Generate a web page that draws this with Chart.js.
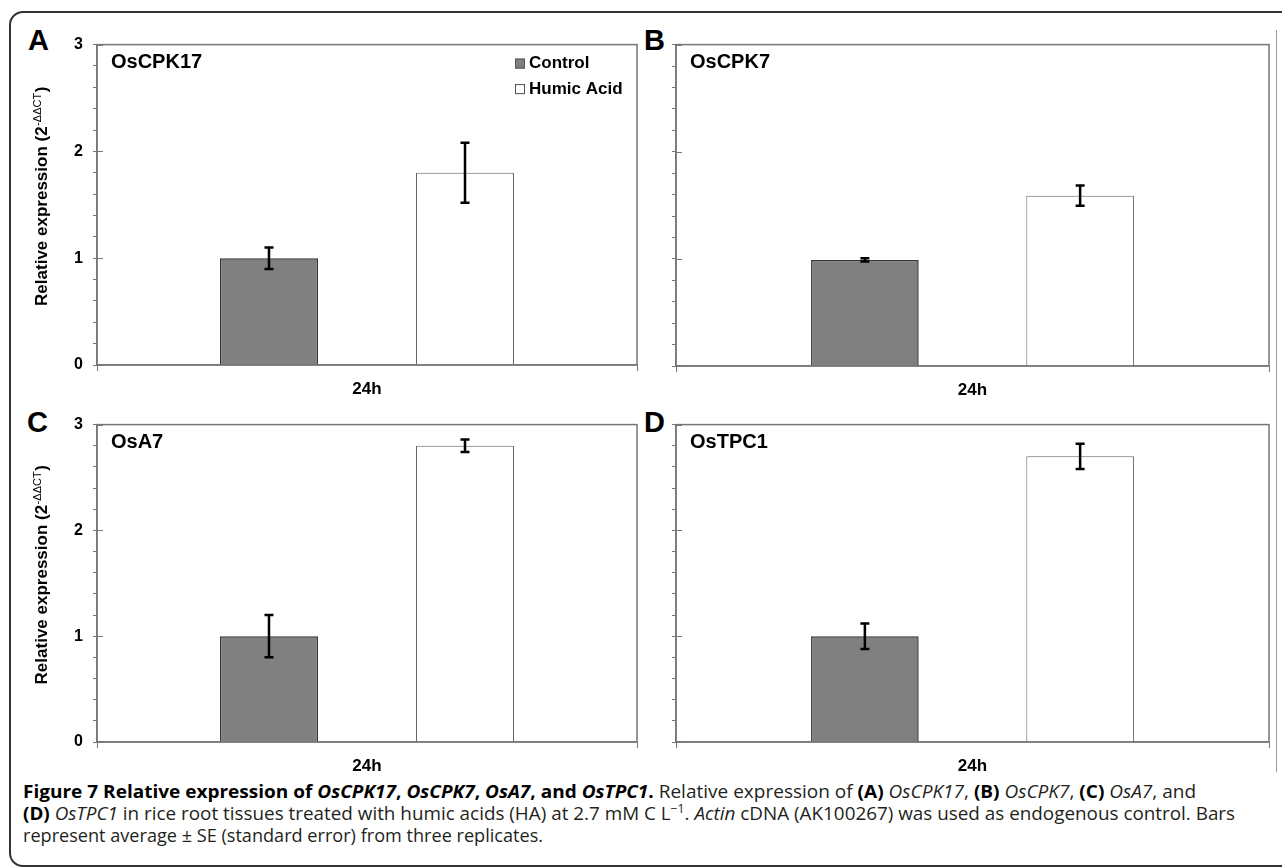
<!DOCTYPE html>
<html>
<head>
<meta charset="utf-8">
<script src="https://cdn.jsdelivr.net/npm/chart.js@4.4.1/dist/chart.umd.min.js"></script>
<style>
html, body { margin: 0; padding: 0; background: #fff; }
body { width: 1282px; height: 868px; position: relative; overflow: hidden; font-family: Arial, "Liberation Sans", sans-serif; }
#frame { position: absolute; left: 9px; top: 11px; width: 1330px; height: 852px; border: 2px solid #333; border-radius: 14px; }
#rightRule { position: absolute; left: 1276px; top: 30px; width: 1px; height: 742px; background: #999; }
.panel { position: absolute; }
.letter { position: absolute; font: bold 29px Arial, "Liberation Sans", sans-serif; line-height: 1; color: #000; }
#caption { position: absolute; left: 23px; top: 780px; font-family: "Open Sans", sans-serif; font-size: 18.5px; color: #231f20; }
#caption div { white-space: nowrap; height: 22px; line-height: 22px; }
#caption span.line { display: inline-block; transform-origin: 0 50%; }
#caption b { color: #000; }
#caption sup { font-size: 12px; line-height: 0; }
</style>
</head>
<body>
<div id="frame"></div>
<div id="rightRule"></div>

<div class="letter" style="left:28px; top:26px;">A</div>
<div class="letter" style="left:644px; top:26px;">B</div>
<div class="letter" style="left:27px; top:408px;">C</div>
<div class="letter" style="left:644px; top:408px;">D</div>

<div id="caption">
  <div><span class="line" data-w="1173"><b>Figure 7 Relative expression of <i>OsCPK17</i>, <i>OsCPK7</i>, <i>OsA7</i>, and <i>OsTPC1</i>.</b> Relative expression of <b>(A)</b> <i>OsCPK17</i>, <b>(B)</b> <i>OsCPK7</i>, <b>(C)</b> <i>OsA7</i>, and</span></div>
  <div><span class="line" data-w="1212"><b>(D)</b> <i>OsTPC1</i> in rice root tissues treated with humic acids (HA) at 2.7 mM C L<sup>&minus;1</sup>. <i>Actin</i> cDNA (AK100267) was used as endogenous control. Bars</span></div>
  <div><span class="line" data-w="520">represent average &plusmn; SE (standard error) from three replicates.</span></div>
</div>

<script>
// values (relative expression, 2^-ddCT), one entry per panel A-D
const categories = ['24h'];
const seriesNames = ['Control', 'Humic Acid'];
const geneNames = ['OsCPK17', 'OsCPK7', 'OsA7', 'OsTPC1'];
const controlMeans = [1.00, 0.99, 1.00, 1.00];
const controlSE = [0.10, 0.015, 0.20, 0.12];
const humicMeans = [1.80, 1.59, 2.80, 2.70];
const humicSE = [0.28, 0.095, 0.06, 0.12];
const yMin = 0;
const yMax = 3;
const yStep = 0.2;
const yTitleMain = 'Relative expression (2';
const yTitleSup = '-\u0394\u0394CT';

const FONT = 'Arial, "Liberation Sans", sans-serif';
const AXIS = '#777';

// canvas box [x, y, w, h] and wanted chart area [left, top, right, bottom], page pixels
const panels = [
    { box: [20, 25, 640, 385], area: [97, 38, 637, 365], yLabels: true, legend: true },
    { box: [655, 25, 625, 385], area: [676, 42, 1269, 366], yLabels: false, legend: false },
    { box: [20, 405, 640, 375], area: [97, 423, 637, 742], yLabels: true, legend: false },
    { box: [655, 405, 625, 375], area: [676, 423, 1269, 742], yLabels: false, legend: false },
];

const errorBars = {
    id: 'errorBars',
    afterDatasetsDraw(chart) {
        const ctx = chart.ctx;
        const y = chart.scales.y;
        ctx.save();
        ctx.strokeStyle = '#000';
        ctx.lineWidth = 2.5;
        chart.data.datasets.forEach((ds, d) => {
            chart.getDatasetMeta(d).data.forEach((bar, i) => {
                const top = y.getPixelForValue(ds.data[i] + ds.errors[i]);
                const bot = y.getPixelForValue(ds.data[i] - ds.errors[i]);
                ctx.beginPath();
                ctx.moveTo(bar.x, top); ctx.lineTo(bar.x, bot);
                ctx.moveTo(bar.x - 4.5, top); ctx.lineTo(bar.x + 4.5, top);
                ctx.moveTo(bar.x - 4.5, bot); ctx.lineTo(bar.x + 4.5, bot);
                ctx.stroke();
            });
        });
        ctx.restore();
    }
};

function makeDecor(gene, p) {
    return {
        id: 'decor',
        afterDraw(chart) {
            const ctx = chart.ctx;
            const a = chart.chartArea;
            const y = chart.scales.y;
            ctx.save();

            // frame round the plot
            ctx.strokeStyle = AXIS;
            ctx.lineWidth = 1.5;
            ctx.strokeRect(a.left, a.top, a.right - a.left, a.bottom - a.top);

            // major ticks cross the axis
            ctx.lineWidth = 1;
            for (let v = yMin; v <= yMax; v++) {
                const py = Math.round(y.getPixelForValue(v)) + 0.5;
                ctx.beginPath();
                ctx.moveTo(a.left, py); ctx.lineTo(a.left + 6, py);
                ctx.stroke();
            }

            // gene name
            ctx.fillStyle = '#000';
            ctx.font = 'bold 20px ' + FONT;
            ctx.textBaseline = 'alphabetic';
            ctx.textAlign = 'left';
            ctx.fillText(gene, a.left + 14, a.top + 23);

            // legend inside panel A
            if (p.legend) {
                ctx.font = 'bold 17px ' + FONT;
                ctx.textBaseline = 'middle';
                chart.data.datasets.forEach((ds, d) => {
                    const ry = a.top + 19 + d * 25.5;
                    ctx.fillStyle = ds.backgroundColor;
                    ctx.fillRect(a.right - 122, ry - 5, 10, 10);
                    ctx.strokeStyle = '#555';
                    ctx.lineWidth = 1;
                    ctx.strokeRect(a.right - 121.5, ry - 4.5, 9, 9);
                    ctx.fillStyle = '#000';
                    ctx.fillText(ds.label, a.right - 108, ry);
                });
            }

            // rotated y title with superscript
            if (p.yLabels) {
                const cx = 27;
                const cy = (a.top + a.bottom) / 2 - 8;
                ctx.translate(cx, cy);
                ctx.rotate(-Math.PI / 2);
                ctx.textBaseline = 'alphabetic';
                ctx.fillStyle = '#000';
                ctx.font = 'bold 17px ' + FONT;
                const w1 = ctx.measureText(yTitleMain).width;
                const w3 = ctx.measureText(')').width;
                ctx.font = '11px ' + FONT;
                const w2 = ctx.measureText(yTitleSup).width;
                const x0 = -(w1 + w2 + w3) / 2;
                ctx.font = 'bold 17px ' + FONT;
                ctx.fillText(yTitleMain, x0, 0);
                ctx.fillText(')', x0 + w1 + w2 + 1, 0);
                ctx.font = '11px ' + FONT;
                ctx.fillText(yTitleSup, x0 + w1 + 0.5, -6);
            }
            ctx.restore();
        }
    };
}

panels.forEach((p, k) => {
    const [bx, by, bw, bh] = p.box;
    const [al, at, ar, ab] = p.area;
    const yw = al - bx;
    const padT = at - by;
    const padR = bx + bw - ar;
    const xh = by + bh - ab;

    const wrap = document.createElement('div');
    wrap.className = 'panel';
    wrap.style.left = bx + 'px';
    wrap.style.top = by + 'px';
    const canvas = document.createElement('canvas');
    canvas.width = bw;
    canvas.height = bh;
    canvas.style.width = bw + 'px';
    canvas.style.height = bh + 'px';
    wrap.appendChild(canvas);
    document.body.appendChild(wrap);

    new Chart(canvas.getContext('2d'), {
        type: 'bar',
        data: {
            labels: categories,
            datasets: [
                {
                    label: seriesNames[0],
                    data: [controlMeans[k]],
                    errors: [controlSE[k]],
                    backgroundColor: '#808080',
                    borderColor: '#333',
                    borderWidth: 1.5,
                    categoryPercentage: 0.726,
                    barPercentage: 0.5
                },
                {
                    label: seriesNames[1],
                    data: [humicMeans[k]],
                    errors: [humicSE[k]],
                    backgroundColor: '#ffffff',
                    borderColor: '#666',
                    borderWidth: 1,
                    categoryPercentage: 0.726,
                    barPercentage: 0.5
                }
            ]
        },
        options: {
            responsive: false,
            animation: false,
            devicePixelRatio: 1,
            layout: { padding: { left: 0, top: padT, right: padR, bottom: 0 } },
            plugins: {
                legend: { display: false },
                tooltip: { enabled: false }
            },
            scales: {
                x: {
                    grid: { display: true, drawOnChartArea: false, drawTicks: true, tickLength: 6, color: AXIS, offset: true },
                    border: { display: true, color: AXIS, width: 1.5 },
                    ticks: { color: '#000', font: { family: FONT, size: 17, weight: 'bold' }, padding: 8 },
                    afterFit: s => { s.height = xh; }
                },
                y: {
                    min: yMin,
                    max: yMax,
                    grid: { display: true, drawOnChartArea: false, drawTicks: true, tickLength: 4, color: AXIS },
                    border: { display: true, color: AXIS, width: 1.5 },
                    ticks: {
                        stepSize: yStep,
                        autoSkip: false,
                        padding: 10,
                        color: '#000',
                        font: { family: FONT, size: 16, weight: 'bold' },
                        callback: v => (p.yLabels && Math.abs(v - Math.round(v)) < 1e-6) ? String(Math.round(v)) : ''
                    },
                    afterFit: s => { s.width = yw; }
                }
            }
        },
        plugins: [errorBars, makeDecor(geneNames[k], p)]
    });
});

// squeeze each caption line to the width it has in the figure
document.querySelectorAll('#caption span.line').forEach(line => {
    const want = +line.dataset.w;
    const have = line.getBoundingClientRect().width;
    if (have > 0) line.style.transform = 'scaleX(' + (want / have).toFixed(4) + ')';
});
</script>
</body>
</html>
